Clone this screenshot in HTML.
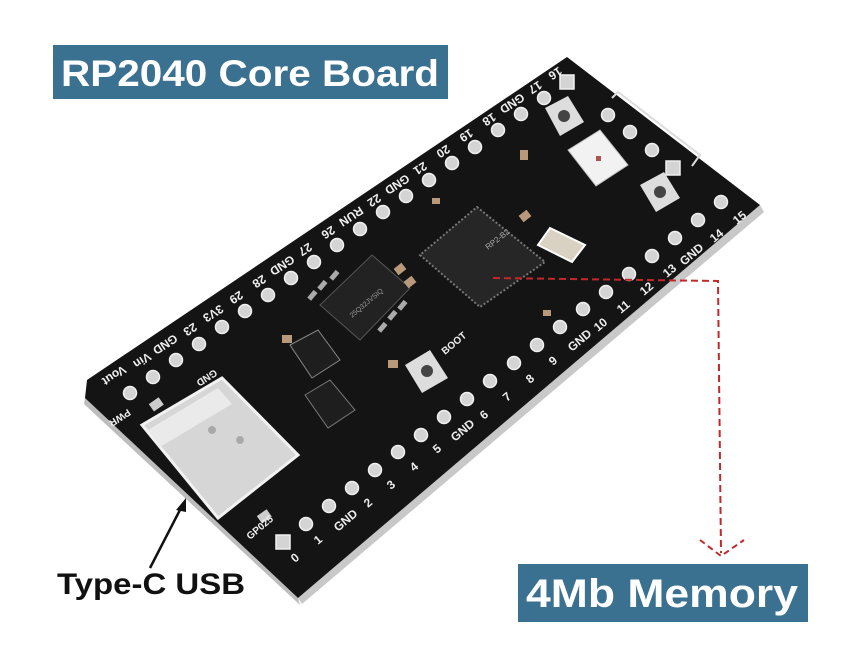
<!DOCTYPE html>
<html><head><meta charset="utf-8"><style>
html,body{margin:0;padding:0;background:#fff}
svg{display:block}
text{font-family:"Liberation Sans",sans-serif}
</style></head><body>
<svg width="850" height="650" viewBox="0 0 850 650" xmlns="http://www.w3.org/2000/svg">
<rect width="850" height="650" fill="#fff"/>
<polygon points="760,205 764,212 302,604 298,598" fill="#c8c8c8"/>
<polygon points="85,398 298,598 300,605 84,404" fill="#bdbdbd"/>
<polygon points="87,380 567,57 760,205 298,598 85,398" fill="#141414"/>
<polyline points="612,98 618,92 700,155 692,166" fill="none" stroke="#ddd" stroke-width="2"/>
<polygon points="477,207 545,262 480,307 420,255" fill="#262626" stroke="#777" stroke-width="2" stroke-dasharray="2,2"/>
<text font-size="8" fill="#aaa" transform="translate(488,250) rotate(-38)">RP2-B2</text>
<polygon points="372,255 410,288 360,340 320,305" fill="#222" stroke="#555"/>
<g fill="#aaa"><rect x="390" y="310" width="5" height="10" transform="rotate(40 392 315)"/><rect x="400" y="300" width="5" height="10" transform="rotate(40 402 305)"/><rect x="380" y="322" width="5" height="10" transform="rotate(40 382 327)"/><rect x="310" y="290" width="5" height="10" transform="rotate(40 312 295)"/><rect x="320" y="280" width="5" height="10" transform="rotate(40 322 285)"/><rect x="332" y="270" width="5" height="10" transform="rotate(40 334 275)"/></g>
<text font-size="7" fill="#999" transform="translate(352,318) rotate(-40)">25Q32JVSIQ</text>
<polygon points="290,345 318,330 340,360 312,378" fill="#1e1e1e" stroke="#888"/>
<polygon points="305,395 330,380 355,410 328,428" fill="#1e1e1e" stroke="#777"/>
<g fill="#b89a7a">
<rect x="395" y="265" width="10" height="8" transform="rotate(-38 400 269)"/>
<rect x="405" y="278" width="10" height="8" transform="rotate(-38 410 282)"/>
<rect x="432" y="198" width="8" height="6"/>
<rect x="520" y="212" width="10" height="8" transform="rotate(-38 525 216)"/>
<rect x="388" y="360" width="10" height="8"/>
<rect x="282" y="335" width="10" height="8"/>
<rect x="520" y="150" width="8" height="10"/>
<rect x="543" y="310" width="8" height="6"/>
</g>
<polygon points="550,228 585,245 572,262 538,245" fill="#d9d2c2" stroke="#fff" stroke-width="2"/>
<polygon points="545,108 568,96 584,122 560,136" fill="#ddd"/><circle cx="564" cy="116" r="6" fill="#444"/>
<polygon points="640,185 664,172 680,198 656,212" fill="#ddd"/><circle cx="660" cy="192" r="6" fill="#444"/>
<polygon points="405,365 430,350 448,378 422,393" fill="#ddd"/><circle cx="427" cy="371" r="6" fill="#444"/>
<polygon points="568,150 600,130 628,165 596,186" fill="#f2f2f2" stroke="#bbb"/>
<rect x="596" y="156" width="5" height="5" fill="#a55"/>
<polygon points="142,425 222,378 298,455 218,518" fill="#d6d6d6" stroke="#f2f2f2" stroke-width="3"/>
<polygon points="148,430 218,388 232,404 160,447" fill="#eaeaea"/>
<circle cx="212" cy="430" r="4" fill="#aaa"/><circle cx="240" cy="440" r="4" fill="#aaa"/>
<rect x="150" y="400" width="12" height="9" fill="#ccc" transform="rotate(-35 156 404)"/>
<rect x="258" y="512" width="12" height="9" fill="#ccc" transform="rotate(-35 264 516)"/>
<g fill="#d4d4d4" stroke="#f0f0f0" stroke-width="1.5">
<circle cx="130" cy="393" r="6.5"/><circle cx="153" cy="377" r="6.5"/><circle cx="176" cy="360" r="6.5"/><circle cx="199" cy="344" r="6.5"/><circle cx="222" cy="327" r="6.5"/><circle cx="245" cy="311" r="6.5"/><circle cx="268" cy="295" r="6.5"/><circle cx="291" cy="278" r="6.5"/><circle cx="314" cy="262" r="6.5"/><circle cx="337" cy="245" r="6.5"/><circle cx="360" cy="229" r="6.5"/><circle cx="383" cy="212" r="6.5"/><circle cx="406" cy="196" r="6.5"/><circle cx="429" cy="180" r="6.5"/><circle cx="452" cy="163" r="6.5"/><circle cx="475" cy="147" r="6.5"/><circle cx="498" cy="130" r="6.5"/><circle cx="521" cy="114" r="6.5"/><circle cx="544" cy="98" r="6.5"/><rect x="560" y="75" width="14" height="14"/>
<rect x="276" y="535" width="14" height="14"/><circle cx="306" cy="524" r="6.5"/><circle cx="329" cy="506" r="6.5"/><circle cx="352" cy="488" r="6.5"/><circle cx="375" cy="470" r="6.5"/><circle cx="398" cy="452" r="6.5"/><circle cx="421" cy="435" r="6.5"/><circle cx="444" cy="417" r="6.5"/><circle cx="467" cy="399" r="6.5"/><circle cx="490" cy="381" r="6.5"/><circle cx="514" cy="363" r="6.5"/><circle cx="537" cy="345" r="6.5"/><circle cx="560" cy="327" r="6.5"/><circle cx="583" cy="309" r="6.5"/><circle cx="606" cy="292" r="6.5"/><circle cx="629" cy="274" r="6.5"/><circle cx="652" cy="256" r="6.5"/><circle cx="675" cy="238" r="6.5"/><circle cx="698" cy="220" r="6.5"/><circle cx="721" cy="202" r="6.5"/>
<circle cx="608" cy="115" r="6.5"/><circle cx="630" cy="132" r="6.5"/><circle cx="652" cy="150" r="6.5"/><rect x="666" y="161" width="14" height="14"/>
</g>
<g fill="#eee" font-size="12" font-weight="bold" text-anchor="middle">
<text transform="translate(112,372) rotate(147)">Vout</text>
<text transform="translate(140,357) rotate(147)">Vin</text>
<text transform="translate(163,341) rotate(147)">GND</text>
<text transform="translate(188,326) rotate(147)">23</text>
<text transform="translate(211,310) rotate(147)">3V3</text>
<text transform="translate(234,294) rotate(147)">29</text>
<text transform="translate(257,278) rotate(147)">28</text>
<text transform="translate(280,262) rotate(147)">GND</text>
<text transform="translate(303,246) rotate(147)">27</text>
<text transform="translate(326,229) rotate(147)">26</text>
<text transform="translate(349,213) rotate(147)">RUN</text>
<text transform="translate(372,197) rotate(147)">22</text>
<text transform="translate(395,181) rotate(147)">GND</text>
<text transform="translate(418,165) rotate(147)">21</text>
<text transform="translate(441,148) rotate(147)">20</text>
<text transform="translate(464,132) rotate(147)">19</text>
<text transform="translate(487,116) rotate(147)">18</text>
<text transform="translate(510,100) rotate(147)">GND</text>
<text transform="translate(533,84) rotate(147)">17</text>
<text transform="translate(553,70) rotate(147)">16</text>
<text transform="translate(118,415) rotate(147)" font-size="10">PWR</text>
<text transform="translate(205,375) rotate(147)" font-size="10">GND</text>
</g>
<g fill="#eee" font-size="12" font-weight="bold">
<text transform="translate(295,563) rotate(-40)">0</text>
<text transform="translate(318,545) rotate(-40)">1</text>
<text transform="translate(338,532) rotate(-40)">GND</text>
<text transform="translate(368,508) rotate(-40)">2</text>
<text transform="translate(391,490) rotate(-40)">3</text>
<text transform="translate(414,472) rotate(-40)">4</text>
<text transform="translate(437,454) rotate(-40)">5</text>
<text transform="translate(455,442) rotate(-40)">GND</text>
<text transform="translate(484,420) rotate(-40)">6</text>
<text transform="translate(507,402) rotate(-40)">7</text>
<text transform="translate(530,384) rotate(-40)">8</text>
<text transform="translate(553,366) rotate(-40)">9</text>
<text transform="translate(572,352) rotate(-40)">GND</text>
<text transform="translate(598,332) rotate(-40)">10</text>
<text transform="translate(621,314) rotate(-40)">11</text>
<text transform="translate(644,296) rotate(-40)">12</text>
<text transform="translate(667,278) rotate(-40)">13</text>
<text transform="translate(684,266) rotate(-40)">GND</text>
<text transform="translate(714,243) rotate(-40)">14</text>
<text transform="translate(737,225) rotate(-40)">15</text>
<text transform="translate(250,540) rotate(-40)" font-size="10">GP025</text>
<text transform="translate(445,355) rotate(-40)" font-size="10">BOOT</text>
</g>
<polyline points="493,278 718,281 721,553" fill="none" stroke="#c0282a" stroke-width="2" stroke-dasharray="7,4"/>
<polyline points="700,540 721,556 744,540" fill="none" stroke="#c0282a" stroke-width="2" stroke-dasharray="6,4"/>
<rect x="53" y="45" width="395" height="54" fill="#3a7190"/>
<text x="250" y="86" font-size="37" font-weight="bold" fill="#fff" text-anchor="middle" textLength="378" lengthAdjust="spacingAndGlyphs">RP2040 Core Board</text>
<rect x="518" y="564" width="290" height="58" fill="#3a7190"/>
<text x="662" y="607" font-size="40" font-weight="bold" fill="#fff" text-anchor="middle" textLength="272" lengthAdjust="spacingAndGlyphs">4Mb Memory</text>
<text x="57" y="594" font-size="30" font-weight="bold" fill="#111" textLength="188" lengthAdjust="spacingAndGlyphs">Type-C USB</text>
<line x1="150" y1="568" x2="182" y2="506" stroke="#111" stroke-width="2.5"/>
<polygon points="186,498 176,510 186,512" fill="#111"/>
</svg>
</body></html>
